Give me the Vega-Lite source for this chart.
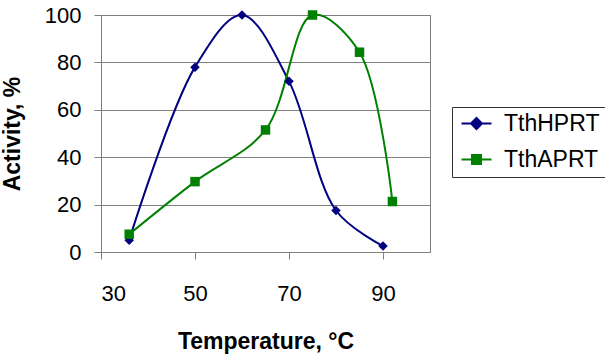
{
  "$schema": "https://vega.github.io/schema/vega-lite/v6.json",
  "width": 329,
  "height": 237,
  "autosize": "none",
  "padding": {"left": 101, "top": 15, "right": 175, "bottom": 104},
  "background": "white",
  "config": {
    "font": "Liberation Sans",
    "view": {"stroke": "#808080", "strokeWidth": 1},
    "axis": {
      "domainColor": "#808080",
      "tickColor": "#808080",
      "gridColor": "#808080",
      "gridOpacity": 1,
      "labelFont": "Liberation Sans",
      "labelFontSize": 22,
      "labelColor": "black",
      "titleFont": "Liberation Sans",
      "titleFontSize": 23,
      "titleFontWeight": "bold",
      "titleColor": "black",
      "tickSize": 7
    },
    "legend": {
      "orient": "none",
      "legendX": 351,
      "legendY": 92,
      "strokeColor": "#333333",
      "fillColor": "white",
      "padding": 5,
      "rowPadding": 12,
      "labelFont": "Liberation Sans",
      "labelFontSize": 23,
      "labelColor": "black",
      "symbolSize": 400,
      "labelOffset": 24
    }
  },
  "data": {
    "values": [
      {"t": 36, "a": 5, "s": "TthHPRT"},
      {"t": 50, "a": 78, "s": "TthHPRT"},
      {"t": 60, "a": 100, "s": "TthHPRT"},
      {"t": 70, "a": 72, "s": "TthHPRT"},
      {"t": 80, "a": 17.5, "s": "TthHPRT"},
      {"t": 90, "a": 2.5, "s": "TthHPRT"},
      {"t": 36, "a": 7.5, "s": "TthAPRT"},
      {"t": 50, "a": 29.7, "s": "TthAPRT"},
      {"t": 65, "a": 51.5, "s": "TthAPRT"},
      {"t": 75, "a": 100, "s": "TthAPRT"},
      {"t": 85, "a": 84.3, "s": "TthAPRT"},
      {"t": 92, "a": 21.3, "s": "TthAPRT"}
    ]
  },
  "encoding": {
    "x": {
      "field": "t", "type": "quantitative",
      "scale": {"domain": [30, 100], "nice": false, "zero": false},
      "axis": {"values": [30, 50, 70, 90], "grid": false, "labelPadding": 24, "titlePadding": 26, "title": "Temperature, °C"}
    },
    "y": {
      "field": "a", "type": "quantitative",
      "scale": {"domain": [0, 100], "nice": false},
      "axis": {"values": [0, 20, 40, 60, 80, 100], "grid": true, "labelPadding": 13, "titlePadding": 20, "title": "Activity, %"}
    },
    "color": {
      "field": "s", "type": "nominal",
      "scale": {"domain": ["TthHPRT", "TthAPRT"], "range": ["#000080", "#008000"]},
      "legend": {
        "title": null,
        "symbolType": "M-0.7,0H2.3",
        "encode": {
          "symbols": {
            "update": {
              "shape": {"signal": "datum.value == 'TthHPRT' ? 'M-0.7,0H2.3M0.8,-0.55L1.35,0L0.8,0.55L0.25,0Z' : 'M-0.7,0H2.3M0.35,-0.45H1.25V0.45H0.35Z'"},
              "fill": {"signal": "datum.value == 'TthHPRT' ? '#000080' : '#008000'"},
              "stroke": {"signal": "datum.value == 'TthHPRT' ? '#000080' : '#008000'"},
              "strokeWidth": {"value": 2},
              "opacity": {"value": 1},
              "fillOpacity": {"value": 1}
            }
          }
        }
      }
    }
  },
  "layer": [
    {
      "mark": {"type": "line", "interpolate": "catmull-rom", "strokeWidth": 2, "clip": false}
    },
    {
      "transform": [{"filter": "datum.s == 'TthHPRT'"}],
      "mark": {"type": "point", "shape": "diamond", "filled": true, "opacity": 1, "size": 90}
    },
    {
      "transform": [{"filter": "datum.s == 'TthAPRT'"}],
      "mark": {"type": "point", "shape": "square", "filled": true, "opacity": 1, "size": 90}
    }
  ]
}
